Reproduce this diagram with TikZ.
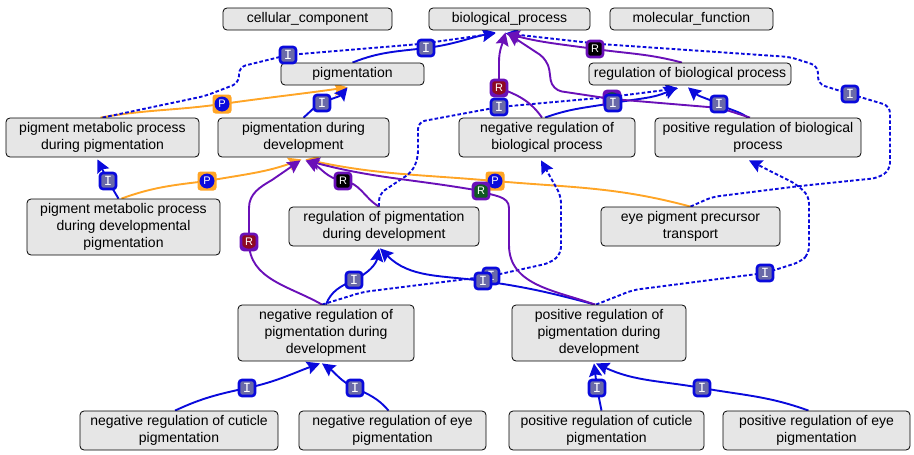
\documentclass[tikz,border=0pt]{standalone}
\usepackage{fontspec}
\setmainfont{Liberation Sans}
\setmonofont{Liberation Mono}
\usetikzlibrary{arrows.meta,backgrounds}
\definecolor{termgray}{HTML}{E6E6E6}
\definecolor{linkblue}{HTML}{0A0ADC}
\definecolor{linkorange}{HTML}{FFA526}
\definecolor{linkpurple}{HTML}{6A10B8}
\definecolor{isfill}{HTML}{6A6AA8}
\definecolor{regred}{HTML}{8E0A22}
\definecolor{reggreen}{HTML}{0F5A22}
\tikzset{
  term/.style={rectangle,rounded corners=4pt,draw=black,line width=.8pt,fill=termgray,
    text=black,align=center,inner sep=0pt,font=\fontsize{14}{17}\selectfont},
  oneline/.style={term,minimum height=22pt},
  twoline/.style={term,minimum height=39pt},
  threeline/.style={term,minimum height=56pt},
  ibadge/.style={rectangle,rounded corners=3pt,draw=linkblue,line width=2.6pt,fill=isfill,
    minimum size=16pt,inner sep=0pt,text=white,font=\ttfamily\fontsize{14}{14}\selectfont},
  rbadge/.style={rectangle,rounded corners=3pt,draw=linkpurple,line width=2.6pt,fill=#1,
    minimum size=16pt,inner sep=0pt,text=white,font=\fontsize{11}{11}\selectfont},
  redbadge/.style={rbadge=linkpurple,path picture={\fill[regred]
    (path picture bounding box.north west) -- (path picture bounding box.north east)
    -- ([yshift=5pt]path picture bounding box.south east) -- (path picture bounding box.south)
    -- ([yshift=5pt]path picture bounding box.south west) -- cycle;}},
  greenbadge/.style={rbadge=linkpurple,path picture={\fill[reggreen]
    (path picture bounding box.south west) -- (path picture bounding box.south east)
    -- ([yshift=-5pt]path picture bounding box.north east) -- (path picture bounding box.north)
    -- ([yshift=-5pt]path picture bounding box.north west) -- cycle;}},
  pbadge/.style={rectangle,rounded corners=3pt,fill=linkorange,minimum size=19pt,inner sep=0pt,
    text=white,font=\fontsize{11}{11}\selectfont,
    path picture={\fill[linkblue] (path picture bounding box.center) circle (7.5pt);}},
  bluelink/.style={draw=linkblue,line width=1.9pt},
  dashlink/.style={bluelink,rounded corners=7pt,dash pattern=on 3.6pt off 2.2pt},
  orangelink/.style={draw=linkorange,line width=1.9pt},
  purplelink/.style={draw=linkpurple,line width=1.9pt},
  >={Stealth[length=13pt,width=13pt,inset=2pt]}
}
\begin{document}
\begin{tikzpicture}[x=1pt,y=-1pt]
  \useasboundingbox (0,0) rectangle (914,455);

  \node[oneline,minimum width=169pt] (cellular) at (307.5,19) {cellular\_component};
  \node[oneline,minimum width=161pt] (biological) [right of=cellular,node distance=202pt] {biological\_process};
  \node[oneline,minimum width=163pt] (molecular) [right of=biological,node distance=182pt] {molecular\_function};

  \node[oneline,minimum width=143pt] (pigmentation) at (352.5,74) {pigmentation};
  \node[oneline,minimum width=202pt] (regbio) [right of=pigmentation,node distance=337.5pt] {regulation of biological process};

  \node[twoline,minimum width=193pt] (pigmet) at (102.5,137.5) {pigment metabolic process\\during pigmentation};
  \node[twoline,minimum width=171pt] (pigdev) [right of=pigmet,node distance=201pt] {pigmentation during\\development};
  \node[twoline,minimum width=176pt] (negbio) [right of=pigdev,node distance=243.5pt] {negative regulation of\\biological process};
  \node[twoline,minimum width=206pt] (posbio) [right of=negbio,node distance=211pt] {positive regulation of biological\\process};

  \node[threeline,minimum width=193pt] (pigmetdev) at (123.5,227) {pigment metabolic process\\during developmental\\pigmentation};
  \node[twoline,minimum width=190pt] (regpig) at (384,226.5) {regulation of pigmentation\\during development};
  \node[twoline,minimum width=179pt] (eyepig) [right of=regpig,node distance=306.5pt] {eye pigment precursor\\transport};

  \node[threeline,minimum width=176pt] (negpig) at (326,333) {negative regulation of\\pigmentation during\\development};
  \node[threeline,minimum width=174pt] (pospig) [right of=negpig,node distance=273pt] {positive regulation of\\pigmentation during\\development};

  \node[twoline,minimum width=198pt] (negcut) at (179,430.5) {negative regulation of cuticle\\pigmentation};
  \node[twoline,minimum width=187pt] (negeye) [right of=negcut,node distance=213.5pt] {negative regulation of eye\\pigmentation};
  \node[twoline,minimum width=195pt] (poscut) [right of=negeye,node distance=214pt] {positive regulation of cuticle\\pigmentation};
  \node[twoline,minimum width=187pt] (poseye) [right of=poscut,node distance=210pt] {positive regulation of eye\\pigmentation};

  % badges on the links
  \node[greenbadge] (rposbio) at (612,99) {};
  \node[ibadge] (ipigbio) at (426,48) {I};
  \node[ibadge] (imetbio) at (288,55) {I};
  \node[pbadge] (pmet) at (222,104) {P};
  \node[ibadge] (idev) at (322,103) {I};
  \node[ibadge] (idevmet) at (108,181) {I};
  \node[pbadge] (pdevmet) at (207,181) {P};
  \node[pbadge] (peye) at (495,181) {P};
  \node[ibadge] (ieye) at (850,94) {I};
  \node[rbadge=black] (rregbio) at (595,49) {R};
  \node[redbadge] (rnegbio) at (499,88) {R};
  \node[ibadge] (inegreg) at (613,103) {I};
  \node[ibadge] (iposreg) at (719,104) {I};
  \node[ibadge] (iregreg) at (499,107) {I};
  \node[rbadge=black] (rregpig) at (343,181) {R};
  \node[redbadge] (rnegpig) at (249,242) {R};
  \node[greenbadge] (rpospig) at (481,191) {R};
  \node[ibadge] (inegreg2) at (354,280) {I};
  \node[ibadge] (inegnb) at (491,276) {I};
  \node[ibadge] (iposreg2) at (483,281) {I};
  \node[ibadge] (iposnb) at (765,273) {I};
  \node[ibadge] (inc) at (247,388) {I};
  \node[ibadge] (ine) at (355,388) {I};
  \node[ibadge] (ipc) at (597,388) {I};
  \node[ibadge] (ipe) at (702,388) {I};

  \begin{scope}[on background layer]
  % orange links
  \draw[orangelink,->] ([xshift=-2pt]pigmet.north) to[out=10,in=188] (pmet.center) to[out=8,in=188] ([shift={(-5,2)}]pigmentation.south);
  \draw[orangelink,->] ([xshift=-2pt]pigmetdev.north) to[out=20,in=187] (pdevmet.center) to[out=10,in=200] ([shift={(-2,2)}]pigdev.south);
  \draw[orangelink,->] (eyepig.north) to[out=165,in=-5] (peye.center) to[out=175,in=-12] ([shift={(2,2)}]pigdev.south);
  % solid blue links
  \draw[bluelink,->] (pigmentation.north) to[out=22,in=187] (ipigbio.center) to[out=7,in=192] ([shift={(-14,2)}]biological.south);
  \draw[bluelink,->] (pigdev.north) to[out=40,in=205] (idev.center) to[out=25,in=230] ([shift={(-5,2)}]pigmentation.south);
  \draw[bluelink,->] ([xshift=-5pt]pigmetdev.north) -- (idevmet.center) -- ([shift={(-5,2)}]pigmet.south);
  \draw[bluelink,->] ([xshift=-2pt]negbio.north) to[out=20,in=190] (inegreg.center) to[out=10,in=205] ([shift={(-13,2)}]regbio.south);
  \draw[bluelink,->] ([xshift=-10pt]posbio.north) to[out=145,in=-30] (iposreg.center) to[out=155,in=-40] ([shift={(-2,2)}]regbio.south);
  \draw[bluelink,->] (negpig.north) to[out=70,in=205] (inegreg2.center) to[out=25,in=-100] ([shift={(-5,2)}]regpig.south);
  \draw[bluelink,->] ([xshift=-4pt]pospig.north) to[out=165,in=-8] (iposreg2.center) to[out=172,in=-45] ([shift={(-4,2)}]regpig.south);
  \draw[bluelink,->] ([xshift=-4pt]negcut.north) to[out=25,in=192] (inc.center) to[out=12,in=200] ([shift={(-6,2)}]negpig.south);
  \draw[bluelink,->] ([xshift=-4pt]negeye.north) to[out=130,in=-25] (ine.center) to[out=155,in=-35] ([shift={(-4,2)}]negpig.south);
  \draw[bluelink,->] ([xshift=-5pt]poscut.north) -- (ipc.center) -- ([shift={(-5,2)}]pospig.south);
  \draw[bluelink,->] ([xshift=-8pt]poseye.north) to[out=160,in=-10] (ipe.center) to[out=170,in=-25] ([shift={(-3,2)}]pospig.south);
  % dashed blue links
  \draw[dashlink,->] (pigmet.north) -- (205,96) -- (239,83) -- (239,67) -- (imetbio.center) -- (420,44) -- ([shift={(-14,3)}]biological.south);
  \draw[dashlink,->] (eyepig.north) -- (712,197) -- (800,186) -- (878,178) -- (890,170) -- (890,106) -- (ieye.center) -- (818,84) -- (818,66) -- (790,57) -- (600,44) -- ([shift={(-4,3)}]biological.south);
  \draw[dashlink,->] ([xshift=-5pt]regpig.north) -- (379,194) -- (412,172) -- (418,158) -- (418,122) -- (iregreg.center) -- (610,97) -- ([shift={(-12,3)}]regbio.south);
  \draw[dashlink,->] ([xshift=-4pt]negpig.north) -- (363,292) -- (inegnb.center) -- (550,263) -- (561,254) -- (561,196) -- ([shift={(-6,3)}]negbio.south);
  \draw[dashlink,->] ([xshift=-3pt]pospig.north) -- (633,290) -- (iposnb.center) -- (800,262) -- (809,254) -- (809,196) -- (796,184) -- ([shift={(-9,3)}]posbio.south);
  % purple links
  \draw[purplelink,->] ([xshift=-8pt]regbio.north) to[out=165,in=-8] (rregbio.center) to[out=172,in=-15] ([shift={(-3,3)}]biological.south);
  \draw[purplelink,->] ([xshift=-5pt]negbio.north) to[out=125,in=-20] (rnegbio.center) -- (499,62) to[out=90,in=-105] ([shift={(-4,2)}]biological.south);
  \draw[purplelink,rounded corners=10pt,->] ([xshift=-8pt]posbio.north) -- (720,108) -- (rposbio.center) -- (552,90) -- (548,60) -- ([shift={(-2,3)}]biological.south);
  \draw[purplelink,->] ([xshift=-5pt]regpig.north) to[out=150,in=-5] (rregpig.center) to[out=170,in=-25] ([shift={(2,3)}]pigdev.south);
  \draw[purplelink,->] ([xshift=-4pt]negpig.north) to[out=150,in=-90] (rnegpig.center) -- (249,208) to[out=90,in=210] (272,180) -- ([shift={(-3,3)}]pigdev.south);
  \draw[purplelink,->] ([xshift=-4pt]pospig.north) to[out=160,in=-90] (509,245) -- (509,208) to[out=90,in=-25] (rpospig.center) to[out=170,in=-15] ([shift={(3,3)}]pigdev.south);
  \end{scope}
\end{tikzpicture}
\end{document}
